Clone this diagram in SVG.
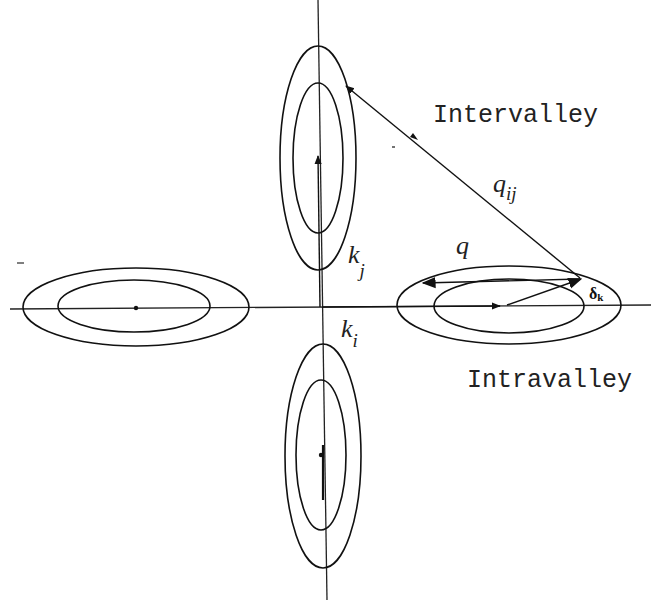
<svg xmlns="http://www.w3.org/2000/svg" width="651" height="602" viewBox="0 0 651 602">
<style>
.ax{stroke:#222;stroke-width:1.3;fill:none}
.el{stroke:#111;stroke-width:1.6;fill:none}
.ar{stroke:#111;stroke-width:1.4;fill:none}
.mono{font-family:"Liberation Mono","DejaVu Sans Mono",monospace;font-size:25px;fill:#222}
.hand{font-family:"Liberation Serif","DejaVu Serif",serif;font-style:italic;font-size:26px;fill:#222}
.sub{font-size:19px}
</style>
<defs>
<marker id="ah" viewBox="0 0 10 10" refX="9" refY="5" markerWidth="9" markerHeight="9" markerUnits="userSpaceOnUse" orient="auto">
<path d="M0,1 L10,5 L0,9 Z" fill="#111"/>
</marker>
<marker id="ahb" viewBox="0 0 10 10" refX="9" refY="5" markerWidth="14" markerHeight="14" markerUnits="userSpaceOnUse" orient="auto">
<path d="M0,1 L10,5 L0,9 Z" fill="#111"/>
</marker>
</defs>
<rect width="651" height="602" fill="#fff"/>
<g id="axes">
<line class="ax" x1="318" y1="0" x2="327" y2="600"/>
<line class="ax" x1="10" y1="309" x2="651" y2="305"/>
</g>
<g id="valley-top">
<ellipse class="el" cx="318" cy="158" rx="38" ry="112"/>
<ellipse class="el" cx="318" cy="158" rx="25" ry="75"/>
</g>
<g id="valley-bottom">
<ellipse class="el" cx="323" cy="456" rx="38" ry="112"/>
<ellipse class="el" cx="321" cy="455" rx="25" ry="75"/>
<line x1="323" y1="445" x2="323" y2="500" stroke="#111" stroke-width="2.2"/>
<circle cx="321" cy="455" r="2.2" fill="#111"/>
</g>
<g id="valley-left">
<ellipse class="el" cx="136" cy="307" rx="113" ry="39"/>
<ellipse class="el" cx="134" cy="306" rx="76" ry="26"/>
<circle cx="136" cy="308" r="2.2" fill="#111"/>
</g>
<g id="valley-right">
<ellipse class="el" cx="509" cy="305" rx="112" ry="39"/>
<ellipse class="el" cx="509" cy="306" rx="75" ry="27"/>
</g>
<g id="connectors">
<line class="ar" x1="320" y1="307" x2="318" y2="156" stroke-width="1.8" marker-end="url(#ah)"/>
<line class="ar" x1="322" y1="307" x2="500" y2="306" marker-end="url(#ah)"/>
<line class="ar" x1="507" y1="305" x2="581" y2="279" marker-end="url(#ahb)"/>
<line class="ar" x1="580" y1="279" x2="423" y2="283" stroke-width="2" marker-end="url(#ahb)"/>
<line class="ar" x1="580" y1="278" x2="346" y2="86" marker-end="url(#ah)"/>
<path d="M418,140 L410,137 L413,133 Z" fill="#111"/>
<line x1="392" y1="147" x2="395" y2="147" stroke="#444" stroke-width="1.5"/>
<line x1="17" y1="263" x2="24" y2="263" stroke="#555" stroke-width="1.5"/>
</g>
<g id="labels">
<text class="mono" x="433" y="122">Intervalley</text>
<text class="mono" x="467" y="387">Intravalley</text>
<text class="hand" x="493" y="192">q<tspan class="sub" dy="8">ij</tspan></text>
<text class="hand" x="456" y="254">q</text>
<text class="hand" x="348" y="263">k<tspan class="sub" dy="14">j</tspan></text>
<text class="hand" x="341" y="337">k<tspan class="sub" dy="10">i</tspan></text>
<text x="589" y="299" font-family="Liberation Serif,serif" font-weight="bold" font-size="16" fill="#111">δ<tspan font-size="11" dy="2">k</tspan></text>
</g>
</svg>
